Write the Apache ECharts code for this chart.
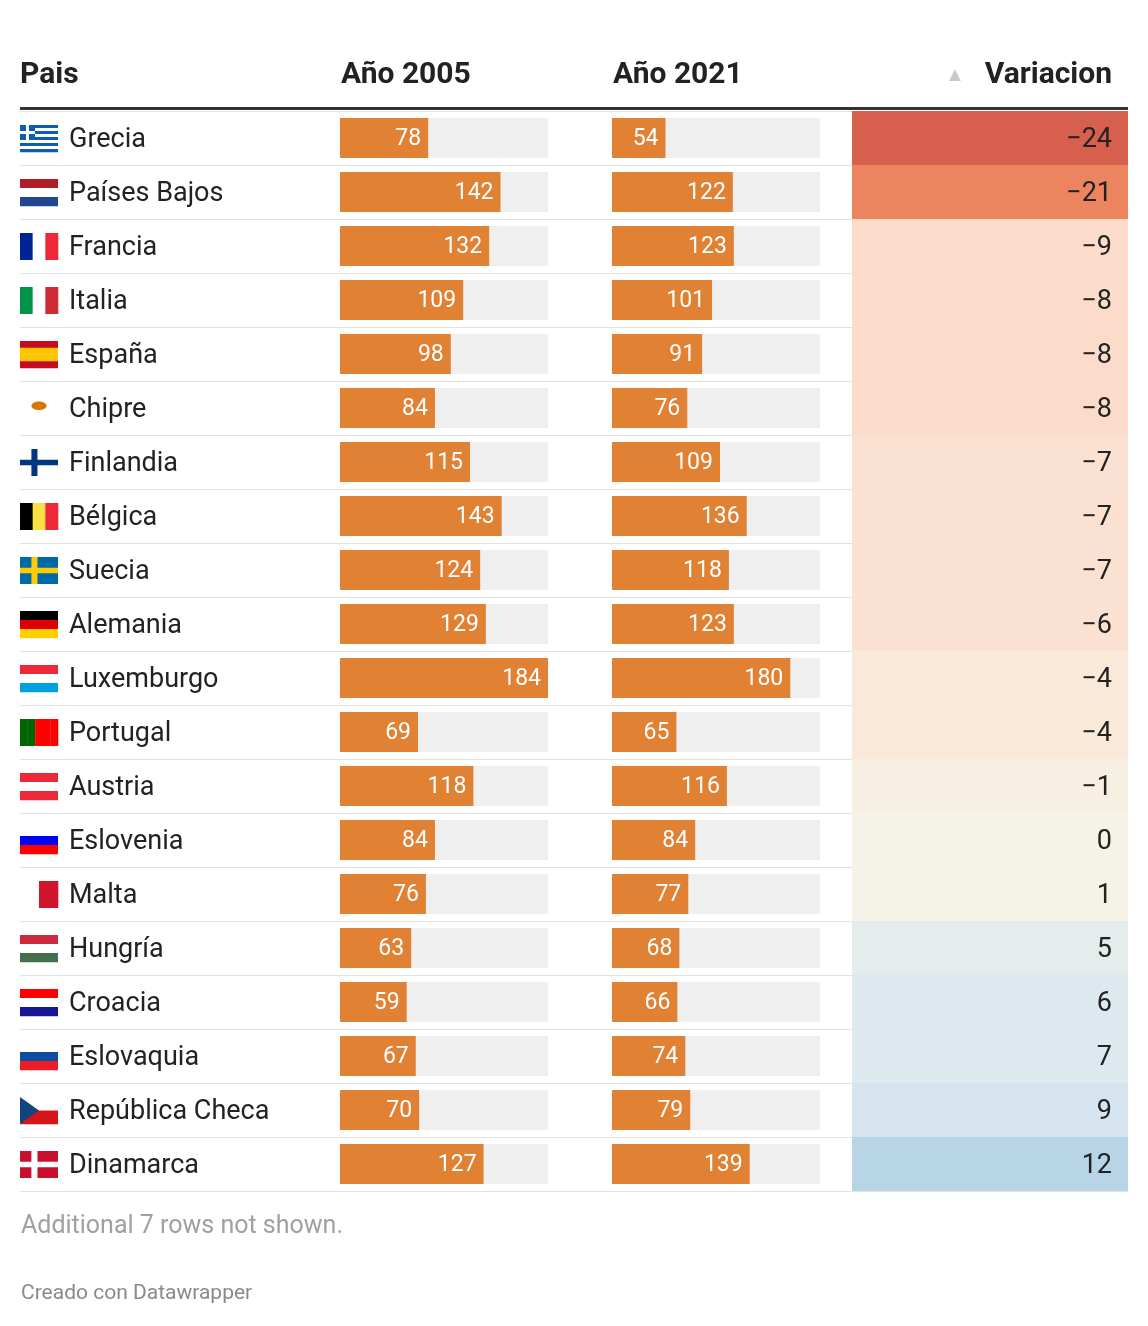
<!DOCTYPE html>
<html><head><meta charset="utf-8">
<script src="https://cdn.jsdelivr.net/npm/echarts@6/dist/echarts.min.js"></script>
<style>html,body{margin:0;background:#fff}#c{width:1148px;height:1326px}</style>
</head><body><div id="c"></div>
<script>
// datos
const paises = ["Grecia","Países Bajos","Francia","Italia","España","Chipre","Finlandia","Bélgica","Suecia","Alemania","Luxemburgo","Portugal","Austria","Eslovenia","Malta","Hungría","Croacia","Eslovaquia","República Checa","Dinamarca"];
const ano2005 = [78,142,132,109,98,84,115,143,124,129,184,69,118,84,76,63,59,67,70,127];
const ano2021 = [54,122,123,101,91,76,109,136,118,123,180,65,116,84,77,68,66,74,79,139];
const variacion = [-24,-21,-9,-8,-8,-8,-7,-7,-7,-6,-4,-4,-1,0,1,5,6,7,9,12];

// banderas simplificadas
const FLAGS = {
  "Grecia": {h:["#0d5eaf","#fff","#0d5eaf","#fff","#0d5eaf","#fff","#0d5eaf","#fff","#0d5eaf"], greek:true},
  "Países Bajos": {h:["#ae1c28","#fff","#21468b"]},
  "Francia": {v:["#002395","#fff","#ed2939"]},
  "Italia": {v:["#009246","#fff","#ce2b37"]},
  "España": {h:["#c60b1e","#ffc400","#ffc400","#c60b1e"]},
  "Chipre": {h:["#fff"], dot:"#d57800"},
  "Finlandia": {cross:["#fff","#003580"]},
  "Bélgica": {v:["#000","#fae042","#ed2939"]},
  "Suecia": {cross:["#006aa7","#fecc00"]},
  "Alemania": {h:["#000","#dd0000","#ffce00"]},
  "Luxemburgo": {h:["#ed2939","#fff","#00a1de"]},
  "Portugal": {v:["#006600","#006600","#ff0000","#ff0000","#ff0000"]},
  "Austria": {h:["#ed2939","#fff","#ed2939"]},
  "Eslovenia": {h:["#fff","#0000ff","#ff0000"]},
  "Malta": {v:["#fff","#cf142b"]},
  "Hungría": {h:["#cd2a3e","#fff","#436f4d"]},
  "Croacia": {h:["#ff0000","#fff","#171796"]},
  "Eslovaquia": {h:["#fff","#0b4ea2","#ee1c25"]},
  "República Checa": {h:["#fff","#d7141a"], tri:"#11457e"},
  "Dinamarca": {cross:["#c8102e","#fff"]}
};

function flagShapes(f, x, y, w, h) {
  const out = [];
  if (f.h) f.h.forEach((c, k) => out.push({type:"rect", shape:{x, y:y+k*h/f.h.length, width:w, height:h/f.h.length+0.3}, style:{fill:c}}));
  if (f.v) f.v.forEach((c, k) => out.push({type:"rect", shape:{x:x+k*w/f.v.length, y, width:w/f.v.length+0.3, height:h}, style:{fill:c}}));
  if (f.cross) {
    out.push({type:"rect", shape:{x, y, width:w, height:h}, style:{fill:f.cross[0]}});
    out.push({type:"rect", shape:{x:x+w*0.3, y, width:w*0.16, height:h}, style:{fill:f.cross[1]}});
    out.push({type:"rect", shape:{x, y:y+h*0.4, width:w, height:h*0.2}, style:{fill:f.cross[1]}});
  }
  if (f.greek) {
    const s = h*5/9;
    out.push({type:"rect", shape:{x, y, width:s, height:s}, style:{fill:"#0d5eaf"}});
    out.push({type:"rect", shape:{x:x+s*0.4, y, width:s*0.2, height:s}, style:{fill:"#fff"}});
    out.push({type:"rect", shape:{x, y:y+s*0.4, width:s, height:s*0.2}, style:{fill:"#fff"}});
  }
  if (f.tri) out.push({type:"polygon", shape:{points:[[x,y],[x+w*0.5,y+h/2],[x,y+h]]}, style:{fill:f.tri}});
  if (f.dot) out.push({type:"ellipse", shape:{cx:x+w*0.5, cy:y+h*0.4, rx:w*0.2, ry:h*0.16}, style:{fill:f.dot}});
  return out;
}

const fmt = v => (v < 0 ? "\u2212" + Math.abs(v) : "" + v);
const TOP = 111, ROWH = 54, N = paises.length;
const FONT = "Roboto";

const chart = echarts.init(document.getElementById("c"));
const cat = paises.map((_, i) => i);
const yCat = gi => ({type:"category", gridIndex:gi, data:cat, inverse:true, show:gi === 0,
  axisLine:{show:false}, axisTick:{show:false}, axisLabel:{show:false},
  splitLine:{show:gi === 0, interval:0, lineStyle:{color:"#e3e3e3", width:1}}});

chart.setOption({
  animation:false,
  textStyle:{fontFamily:FONT},
  grid:[
    {left:20, width:1108, top:TOP, height:ROWH*N},
    {left:340, width:208, top:TOP, height:ROWH*N},
    {left:612, width:208, top:TOP, height:ROWH*N},
    {left:852, width:276, top:TOP, height:ROWH*N}
  ],
  xAxis:[
    {type:"value", gridIndex:0, min:0, max:1108, show:false},
    {type:"value", gridIndex:1, min:0, max:184, show:false},
    {type:"value", gridIndex:2, min:0, max:210, show:false},
    {type:"value", gridIndex:3, min:0, max:1, show:false}
  ],
  yAxis:[yCat(0), yCat(1), yCat(2), yCat(3)],
  visualMap:{type:"piecewise", show:false, seriesIndex:3, dimension:2, pieces:[
    {lt:-22, color:"#d6604d"}, {gte:-22, lt:-15, color:"#eb845f"},
    {gte:-15, lt:-7.5, color:"#fbdccb"}, {gte:-7.5, lt:-5, color:"#fbe1d1"},
    {gte:-5, lt:-2, color:"#fae8d9"}, {gte:-2, lt:-0.5, color:"#f8efe3"},
    {gte:-0.5, lt:3, color:"#f5f3e7"}, {gte:3, lt:5.5, color:"#e5ecec"},
    {gte:5.5, lt:8, color:"#dde8ef"}, {gte:8, lt:10, color:"#d5e4ee"},
    {gte:10, color:"#b8d5e8"}]},
  series:[
    {type:"custom", xAxisIndex:0, yAxisIndex:0, data:paises.map((p, i) => [0, i]),
      renderItem:(params, api) => {
        const pt = api.coord([0, api.value(1)]);
        const name = paises[params.dataIndex];
        return {type:"group", children:flagShapes(FLAGS[name], pt[0], pt[1] - 13, 38, 27).concat([
          {type:"text", x:pt[0] + 49, y:pt[1] + 2, style:{text:name, fill:"#222", font:"27px " + FONT, textVerticalAlign:"middle"}}])};
      }},
    {type:"bar", xAxisIndex:1, yAxisIndex:1, data:ano2005, barWidth:40,
      itemStyle:{color:"#e08133"}, showBackground:true, backgroundStyle:{color:"#efefef"},
      label:{show:true, position:"insideRight", color:"#fff", fontSize:23, distance:7, offset:[0, 1]}},
    {type:"bar", xAxisIndex:2, yAxisIndex:2, data:ano2021, barWidth:40,
      itemStyle:{color:"#e08133"}, showBackground:true, backgroundStyle:{color:"#efefef"},
      label:{show:true, position:"insideRight", color:"#fff", fontSize:23, distance:7, offset:[0, 1]}},
    {type:"bar", xAxisIndex:3, yAxisIndex:3, data:variacion.map((v, i) => [1, i, v]),
      encode:{x:0, y:1}, barWidth:"100%",
      label:{show:true, position:"insideRight", distance:16, fontSize:27, color:"#222", offset:[0, 2],
        formatter:p => fmt(p.value[2])}}
  ],
  graphic:[
    {type:"text", left:20, top:60, style:{text:"Pais", font:"bold 30px " + FONT, fill:"#222"}},
    {type:"text", left:341, top:60, style:{text:"Año 2005", font:"bold 30px " + FONT, fill:"#222"}},
    {type:"text", left:613, top:60, style:{text:"Año 2021", font:"bold 30px " + FONT, fill:"#222"}},
    {type:"text", left:945, top:66, style:{text:"▲", font:"20px " + FONT, fill:"#c8c8c8"}},
    {type:"text", right:36, top:60, style:{text:"Variacion", font:"bold 30px " + FONT, fill:"#222"}},
    {type:"rect", left:20, top:107, shape:{width:1108, height:3}, style:{fill:"#333"}},
    {type:"text", left:21, top:1214, style:{text:"Additional 7 rows not shown.", font:"25px " + FONT, fill:"#a0a0a0"}},
    {type:"text", left:21, top:1283, style:{text:"Creado con Datawrapper", font:"21px " + FONT, fill:"#8a8a8a"}}
  ]
});
</script></body></html>
